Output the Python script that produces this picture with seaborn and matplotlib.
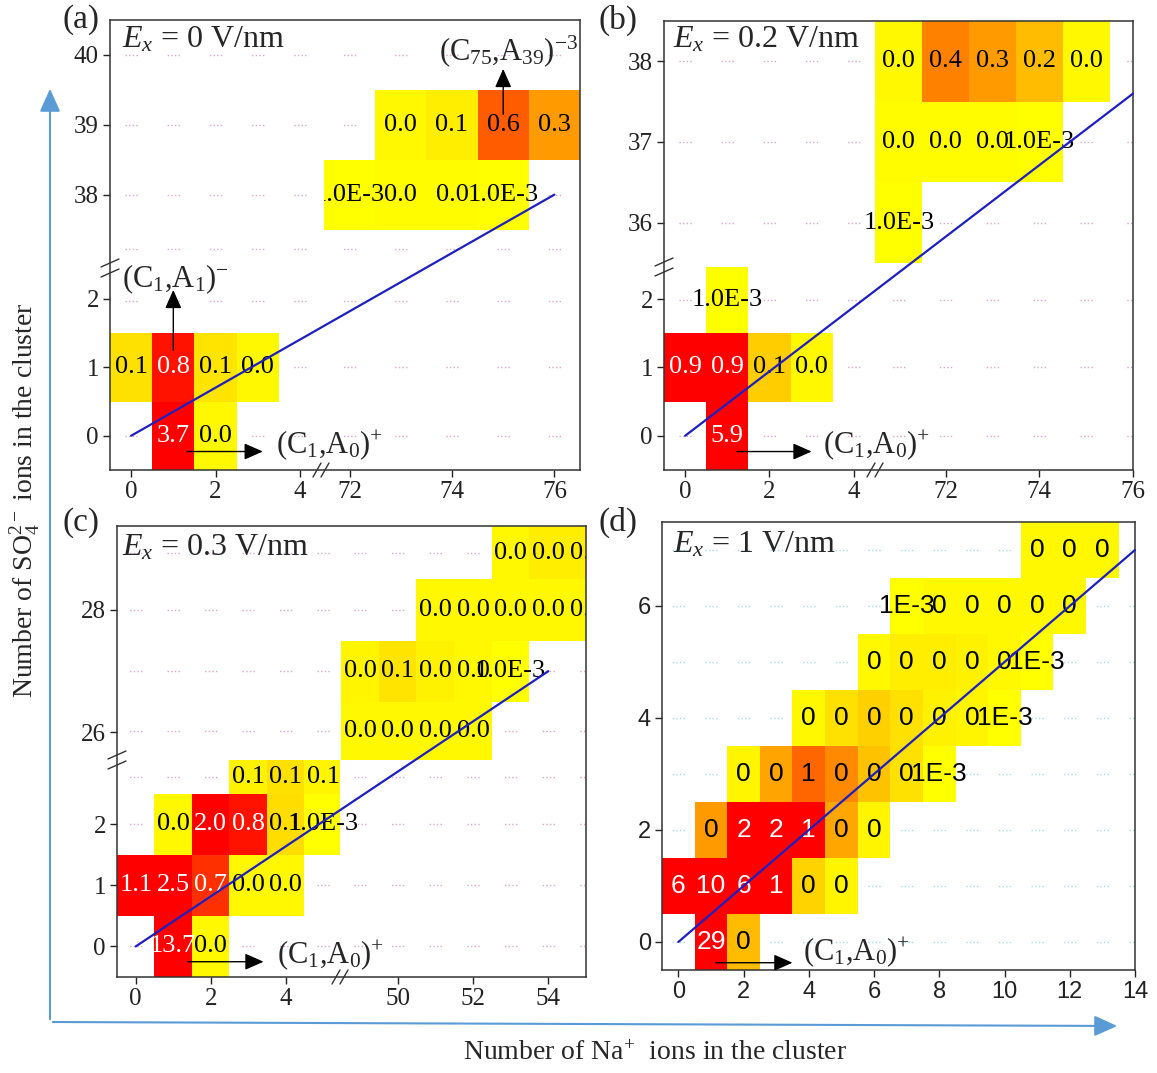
import numpy as np
import pandas as pd
import matplotlib
matplotlib.use("Agg")
import matplotlib.pyplot as plt
import seaborn as sns
from matplotlib.colors import LinearSegmentedColormap
from matplotlib.patches import ConnectionPatch, FancyArrowPatch
from matplotlib.transforms import Bbox, TransformedBbox
from matplotlib.lines import Line2D

sns.set_style("white")
plt.rcParams['font.family'] = ['Liberation Serif', 'DejaVu Serif']
plt.rcParams['mathtext.fontset'] = 'custom'
plt.rcParams['mathtext.rm'] = 'Liberation Serif'
plt.rcParams['mathtext.it'] = 'Liberation Serif:italic'
plt.rcParams['mathtext.bf'] = 'Liberation Serif:bold'

# ---------------- data ----------------
# panel (a): Ex = 0 V/nm
A_NA  = [0, 1, 2, 3, 1, 2, 72, 73, 74, 75, 73, 74, 75, 76]
A_SO4 = [1, 1, 1, 1, 0, 0, 38, 38, 38, 38, 39, 39, 39, 39]
A_VAL = [0.09, 0.8, 0.08, 0.02, 3.7, 0.02, 0.001, 0.01, 0.01, 0.001, 0.02, 0.05, 0.6, 0.3]
A_LBL = ["0.1", "0.8", "0.1", "0.0", "3.7", "0.0", "1.0E-3", "0.0", "0.0", "1.0E-3",
         "0.0", "0.1", "0.6", "0.3"]

# panel (b): Ex = 0.2 V/nm
B_NA  = [0, 1, 2, 3, 1, 1, 71, 72, 73, 74, 75, 71, 72, 73, 74, 71]
B_SO4 = [1, 1, 1, 1, 0, 2, 38, 38, 38, 38, 38, 37, 37, 37, 37, 36]
B_VAL = [0.9, 0.9, 0.15, 0.02, 5.9, 0.001, 0.02, 0.42, 0.3, 0.2, 0.02,
         0.01, 0.01, 0.01, 0.001, 0.001]
B_LBL = ["0.9", "0.9", "0.1", "0.0", "5.9", "1.0E-3", "0.0", "0.4", "0.3", "0.2", "0.0",
         "0.0", "0.0", "0.0", "1.0E-3", "1.0E-3"]

# panel (c): Ex = 0.3 V/nm
C_NA  = [1, 2, 0, 1, 2, 3, 4, 1, 2, 3, 4, 5, 3, 4, 5,
         49, 50, 51, 52, 49, 50, 51, 52, 53, 51, 52, 53, 54, 55, 53, 54, 55]
C_SO4 = [0, 0, 1, 1, 1, 1, 1, 2, 2, 2, 2, 2, 3, 3, 3,
         26, 26, 26, 26, 27, 27, 27, 27, 27, 28, 28, 28, 28, 28, 29, 29, 29]
C_VAL = [13.7, 0.02, 1.1, 2.5, 0.72, 0.02, 0.02, 0.02, 2.0, 0.8, 0.1, 0.001, 0.04, 0.09, 0.03,
         0.02, 0.02, 0.02, 0.02, 0.03, 0.08, 0.04, 0.02, 0.001, 0.02, 0.02, 0.02, 0.02, 0.02,
         0.02, 0.05, 0.05]
C_LBL = ["13.7", "0.0", "1.1", "2.5", "0.7", "0.0", "0.0", "0.0", "2.0", "0.8", "0.1", "1.0E-3",
         "0.1", "0.1", "0.1",
         "0.0", "0.0", "0.0", "0.0", "0.0", "0.1", "0.0", "0.0", "1.0E-3",
         "0.0", "0.0", "0.0", "0.0", "0.0", "0.0", "0.0", "0.0"]

# panel (d): Ex = 1 V/nm
D_NA  = [1, 2,
         0, 1, 2, 3, 4, 5,
         1, 2, 3, 4, 5, 6,
         2, 3, 4, 5, 6, 7, 8,
         4, 5, 6, 7, 8, 9, 10,
         6, 7, 8, 9, 10, 11,
         7, 8, 9, 10, 11, 12,
         11, 12, 13]
D_SO4 = [0, 0,
         1, 1, 1, 1, 1, 1,
         2, 2, 2, 2, 2, 2,
         3, 3, 3, 3, 3, 3, 3,
         4, 4, 4, 4, 4, 4, 4,
         5, 5, 5, 5, 5, 5,
         6, 6, 6, 6, 6, 6,
         7, 7, 7]
D_VAL = [29, 0.2,
         6, 10, 6, 1.0, 0.13, 0.03,
         0.3, 2, 2, 1.0, 0.26, 0.03,
         0.03, 0.27, 0.55, 0.38, 0.18, 0.09, 0.001,
         0.02, 0.09, 0.14, 0.09, 0.04, 0.03, 0.001,
         0.02, 0.05, 0.05, 0.04, 0.02, 0.001,
         0.001, 0.02, 0.02, 0.02, 0.02, 0.02,
         0.02, 0.02, 0.02]
D_LBL = ["29", "0",
         "6", "10", "6", "1", "0", "0",
         "0", "2", "2", "1", "0", "0",
         "0", "0", "1", "0", "0", "0", "1E-3",
         "0", "0", "0", "0", "0", "0", "1E-3",
         "0", "0", "0", "0", "0", "1E-3",
         "1E-3", "0", "0", "0", "0", "0",
         "0", "0", "0"]

A_XTICKS, A_YTICKS = [0, 2, 4, 72, 74, 76], [0, 1, 2, 38, 39, 40]
B_XTICKS, B_YTICKS = [0, 2, 4, 72, 74, 76], [0, 1, 2, 36, 37, 38]
C_XTICKS, C_YTICKS = [0, 2, 4, 50, 52, 54], [0, 1, 2, 26, 28]
D_XTICKS, D_YTICKS = [0, 2, 4, 6, 8, 10, 12, 14], [0, 2, 4, 6]

# end points of the guide line (Na, SO4), starting at (0, 0)
A_LINE = [(0, 0), (76, 38)]
B_LINE = [(0, 0), (76, 37.6)]
C_LINE = [(0, 0), (54, 27)]
D_LINE = [(0, 0), (14, 7)]

# ---------------- style ----------------
W, H = 1157, 1073
fig = plt.figure(figsize=(W / 100, H / 100), dpi=100)


def fx(p):
    return p / W


def fy(p):
    return 1 - p / H


CMAP = LinearSegmentedColormap.from_list(
    "yr", [(0, "#FFFF00"), (0.353, "#FF9A00"), (0.706, "#FF5C00"), (1, "#FF0000")])
VMAX = 0.85
LINE_COLOR = "#1F1FC0"
SERIF = "Liberation Serif"
SANS = "Liberation Sans"


def seg_center(k, lo, hi):
    a, b = max(k - 0.5, lo), min(k + 0.5, hi)
    return (a + b) / 2, b - a


def draw_panel(na, so4, val, lbl, box, xsegs, ysegs, xticks, yticks, line,
               grid_color, cell_font, cell_size, tick_font, tick_size, xbreak=None):
    L, R, T, B = box
    df = pd.DataFrame({"na": na, "so4": so4, "val": val})
    mat = (df.pivot(index="so4", columns="na", values="val")
             .reindex(index=range(max(so4) + 1), columns=range(max(na) + 1)))
    mat.index.name = None
    mat.columns.name = None
    clip = TransformedBbox(Bbox([[fx(L), fy(B)], [fx(R), fy(T)]]), fig.transFigure)
    nx, ny = len(xsegs), len(ysegs)
    axes = {}
    for i in range(nx - 1, -1, -1):
        x0, x1, px0, px1 = xsegs[i]
        for j in range(ny):
            y0, y1, pyb, pyt = ysegs[j]
            ax = fig.add_axes([fx(px0), fy(pyb), fx(px1) - fx(px0), fy(pyt) - fy(pyb)])
            ax.set_zorder(1 + (nx - 1 - i))
            sns.heatmap(mat, ax=ax, cmap=CMAP, vmin=0, vmax=VMAX, cbar=False,
                        xticklabels=False, yticklabels=False)
            ax.set_xlim(x0 + 0.5, x1 + 0.5)
            ax.set_ylim(y0 + 0.5, y1 + 0.5)
            ax.set_xlabel("")
            ax.set_ylabel("")
            for sp in ax.spines.values():
                sp.set_visible(False)
            # dotted row guides (one dotted dash group per column)
            colw = (px1 - px0) / (x1 - x0) * 0.72
            dd, ss = 1.0, 1.6
            g = 4 * dd + 3 * ss
            a = (np.ceil(x0) - x0) * colw - g / 2
            if a < 0:
                a += colw
            off = (colw - a) % colw
            pattern = (dd, ss, dd, ss, dd, ss, dd, colw - g)
            for k in range(int(np.floor(y0)), int(np.ceil(y1)) + 1):
                yc, vis = seg_center(k, y0, y1)
                if vis > 0.15:
                    ax.axhline(yc + 0.5, color=grid_color, lw=1.0,
                               linestyle=(off, pattern), zorder=0.5)
            # cell labels
            for n, s, v, t in zip(na, so4, val, lbl):
                yc, vis = seg_center(s, y0, y1)
                if vis > 0.15 and x0 - 1e-6 <= n <= x1 + 1e-6:
                    txt = ax.text(n + 0.5, yc + 0.5, t, ha="center", va="center",
                                  fontsize=cell_size, family=cell_font,
                                  color="white" if v >= 0.65 else "black", clip_on=True)
                    txt.set_clip_box(clip)
            # ticks
            ax.tick_params(which="both", direction="out", length=5, width=1,
                           colors="#222222", labelsize=tick_size, pad=3,
                           top=False, right=False, left=False, bottom=False)
            if i == 0:
                yt = [t for t in yticks if y0 <= t <= y1]
                ax.set_yticks([t + 0.5 for t in yt], [str(t) for t in yt],
                              fontfamily=tick_font, rotation=0)
                ax.tick_params(axis="y", left=True, labelleft=True)
            else:
                ax.set_yticks([])
            if j == 0:
                xt = [t for t in xticks if x0 <= t <= x1 + 1e-6]
                ax.set_xticks([t + 0.5 for t in xt], [str(t) for t in xt],
                              fontfamily=tick_font, rotation=0)
                ax.tick_params(axis="x", bottom=True, labelbottom=True)
            else:
                ax.set_xticks([])
            axes[(i, j)] = (ax, (x0, x1), (y0, y1))

    def find(x, y):
        for (ax, (x0, x1), (y0, y1)) in axes.values():
            if x0 - 1e-6 <= x <= x1 + 1e-6 and y0 - 1e-6 <= y <= y1 + 1e-6:
                return ax
        return axes[(0, 0)][0]

    # frame
    frame = fig.add_axes([fx(L), fy(B), fx(R) - fx(L), fy(T) - fy(B)], zorder=10)
    frame.patch.set_visible(False)
    frame.set_xlim(0, 1)
    frame.set_ylim(0, 1)
    frame.set_xticks([])
    frame.set_yticks([])
    for sp in frame.spines.values():
        sp.set_visible(True)
        sp.set_color("#333333")
        sp.set_linewidth(1.1)

    def p2a(px, py):
        return (px - L) / (R - L), (B - py) / (B - T)

    def seg(p, q, **kw):
        (ax_, ay_), (bx_, by_) = p2a(*p), p2a(*q)
        frame.add_line(Line2D([ax_, bx_], [ay_, by_], transform=frame.transAxes,
                              clip_on=False, **kw))

    if ny > 1:
        yb = ysegs[0][3]
        seg((L, yb - 5), (L, yb + 5), color="white", lw=3)
        for o in (-5, 5):
            seg((L - 9, yb + 4 + o), (L + 9, yb - 4 + o), color="#333333", lw=1)
    if nx > 1:
        xb = xbreak if xbreak is not None else xsegs[0][3]
        seg((xb - 4, B), (xb + 4, B), color="white", lw=3)
        for o in (-4, 4):
            seg((xb - 4 + o, B + 7), (xb + 4 + o, B - 7), color="#333333", lw=1)

    # guide line across the broken axes
    (xa, ya), (xb_, yb_) = line
    con = ConnectionPatch(xyA=(xa + 0.5, ya + 0.5), coordsA=find(xa, ya).transData,
                          xyB=(xb_ + 0.5, yb_ + 0.5), coordsB=find(xb_, yb_).transData,
                          color=LINE_COLOR, lw=1.6, zorder=20)
    fig.add_artist(con)
    return find, frame


def label(ax, x, y, s, size=22):
    fig.text(x + 0.5, y + 0.5, s, transform=ax.transData, ha="left", va="center",
             fontsize=size, family=SERIF, zorder=21)


def arrow(ax, p, q):
    fig.add_artist(FancyArrowPatch((p[0] + 0.5, p[1] + 0.5), (q[0] + 0.5, q[1] + 0.5),
                                   transform=ax.transData,
                                   arrowstyle="-|>,head_length=0.95,head_width=0.42",
                                   mutation_scale=12, lw=1.0, color="black",
                                   shrinkA=0, shrinkB=0, zorder=21))


C10 = r"(C$_1$,A$_0$)$^{+}$"
TICK = 18
CELL = 19
PINK = "#D9A8CB"
CYAN = "#A6DCE3"
TITLE = 23

# (a)
fa, fra = draw_panel(A_NA, A_SO4, A_VAL, A_LBL, (110, 580, 20, 470),
                     [(-0.5, 4.57, 110, 324), (71.5, 76.5, 324, 580)],
                     [(-0.5, 2.45, 470, 268), (36.95, 40.5, 268, 20)],
                     A_XTICKS, A_YTICKS, A_LINE, PINK, SERIF, CELL, SERIF, TICK, xbreak=321)
label(fa(0, 0), 3.43, -0.14, C10)
arrow(fa(0, 0), (1.32, -0.23), (3.12, -0.23))
label(fa(0, 0), -0.22, 2.29, r"(C$_1$,A$_1$)$^{-}$")
arrow(fa(0, 0), (1, 1.25), (1, 2.13))
label(fa(76, 40), 73.75, 40.06, r"(C$_{75}$,A$_{39}$)$^{-3}$")
arrow(fa(75, 39), (75, 39.15), (75, 39.8))
fig.text(0.026, 0.956, r"$E_x$ = 0 V/nm", transform=fra.transAxes, va="center",
         fontsize=TITLE, zorder=21)

# (b)
fb, frb = draw_panel(B_NA, B_SO4, B_VAL, B_LBL, (664, 1133, 21, 470),
                     [(-0.5, 4.29, 664, 866), (70.3, 76.0, 866, 1133)],
                     [(-0.5, 2.47, 470, 267), (35.45, 38.5, 267, 21)],
                     B_XTICKS, B_YTICKS, B_LINE, PINK, SERIF, CELL, SERIF, TICK, xbreak=875)
label(fb(0, 0), 3.27, -0.14, C10)
arrow(fb(0, 0), (1.23, -0.23), (3.0, -0.23))
fig.text(0.019, 0.958, r"$E_x$ = 0.2 V/nm", transform=frb.transAxes, va="center",
         fontsize=TITLE, zorder=21)

# (c)
fc, frc = draw_panel(C_NA, C_SO4, C_VAL, C_LBL, (117, 586, 526, 977),
                     [(-0.5, 5.45, 117, 340), (48.47, 55.0, 340, 586)],
                     [(-0.5, 3.05, 977, 760), (25.55, 29.37, 760, 526)],
                     C_XTICKS, C_YTICKS, C_LINE, PINK, SERIF, CELL, SERIF, TICK)
label(fc(0, 0), 3.76, -0.14, C10)
arrow(fc(0, 0), (1.39, -0.25), (3.41, -0.25))
fig.text(0.011, 0.951, r"$E_x$ = 0.3 V/nm", transform=frc.transAxes, va="center",
         fontsize=TITLE, zorder=21)

# (d)
fd, frd = draw_panel(D_NA, D_SO4, D_VAL, D_LBL, (662, 1135, 522, 970),
                     [(-0.5, 14.0, 662, 1135)],
                     [(-0.5, 7.5, 970, 522)],
                     D_XTICKS, D_YTICKS, D_LINE, CYAN, SANS, 19, SANS, 17)
label(fd(0, 0), 3.83, -0.18, C10)
arrow(fd(0, 0), (1.15, -0.37), (3.5, -0.37))
fig.text(0.023, 0.949, r"$E_x$ = 1 V/nm", transform=frd.transAxes, va="center",
         fontsize=TITLE, zorder=21)

# panel letters
for s, px, py in [("(a)", 62, 20), ("(b)", 598, 20), ("(c)", 62, 523), ("(d)", 598, 522)]:
    fig.text(fx(px), fy(py), s, fontsize=24, va="center", ha="left")

# outer axis arrows and labels
fig.add_artist(FancyArrowPatch((fx(50), fy(1022)), (fx(50), fy(86)), transform=fig.transFigure,
                               arrowstyle="-|>,head_length=1.0,head_width=0.45",
                               mutation_scale=14, lw=1.5, color="#5B9BD5", zorder=0))
fig.add_artist(FancyArrowPatch((fx(50), fy(1022)), (fx(1120), fy(1026)), transform=fig.transFigure,
                               arrowstyle="-|>,head_length=1.0,head_width=0.45",
                               mutation_scale=14, lw=1.5, color="#5B9BD5", zorder=0))
fig.text(fx(25), fy(500), r"Number of SO$_4^{2-}$ ions in the cluster", rotation=90,
         ha="center", va="center", fontsize=20)
fig.text(fx(655), fy(1053), r"Number of Na$^{+}$  ions in the cluster",
         ha="center", va="center", fontsize=20)

fig.savefig("out.png", dpi=100)
